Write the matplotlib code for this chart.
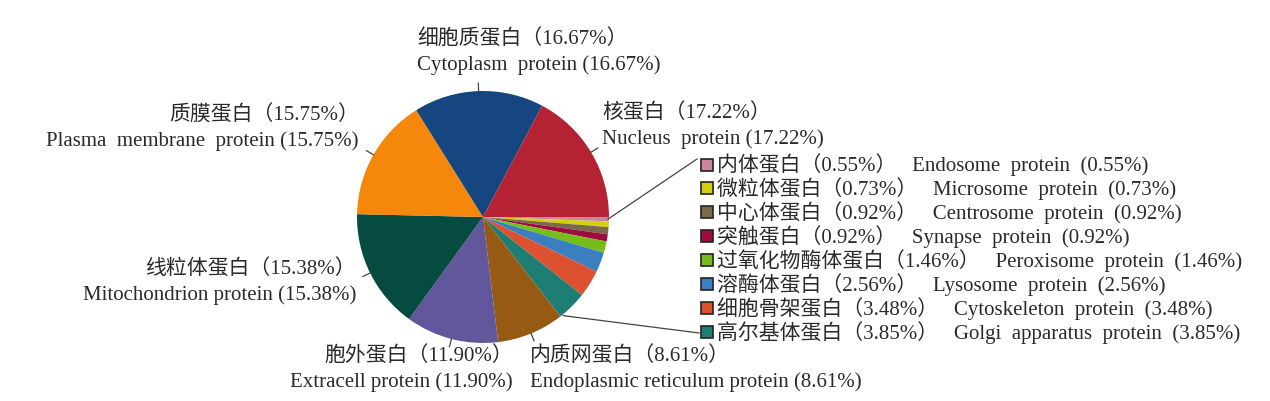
import matplotlib
matplotlib.use('Agg')
import matplotlib.pyplot as plt
import numpy as np

plt.rcParams['font.family'] = ['Liberation Serif', 'Noto Sans CJK SC', 'DejaVu Sans']

W, H = 1270, 402

# slices, clockwise from 3 o'clock
names_cn = ['内体蛋白', '微粒体蛋白', '中心体蛋白', '突触蛋白', '过氧化物酶体蛋白',
            '溶酶体蛋白', '细胞骨架蛋白', '高尔基体蛋白', '内质网蛋白', '胞外蛋白',
            '线粒体蛋白', '质膜蛋白', '细胞质蛋白', '核蛋白']
names_en = ['Endosome  protein', 'Microsome  protein', 'Centrosome  protein',
            'Synapse  protein', 'Peroxisome  protein', 'Lysosome  protein',
            'Cytoskeleton  protein', 'Golgi  apparatus  protein',
            'Endoplasmic reticulum protein', 'Extracell protein',
            'Mitochondrion protein', 'Plasma  membrane  protein',
            'Cytoplasm  protein', 'Nucleus  protein']
values = [0.55, 0.73, 0.92, 0.92, 1.46, 2.56, 3.48, 3.85, 8.61, 11.90,
          15.38, 15.75, 16.67, 17.22]
colors = ['#cc84a0', '#d4cf10', '#7b6a4c', '#a00a40', '#76bd1c', '#3a80c0',
          '#dc5230', '#1f7e74', '#975a12', '#62569c', '#054b40', '#f5870c',
          '#15467f', '#b42233']

n_legend = 8  # first eight slices go in the list on the right

fig = plt.figure(figsize=(W / 100, H / 100), dpi=100)
ax = fig.add_axes([0, 0, 1, 1])

cx, cy, r = 483, H - 218, 126
wedges, _ = ax.pie(values, colors=colors, startangle=0, counterclock=False,
                   center=(cx, cy), radius=r, frame=True,
                   wedgeprops=dict(linewidth=0))
ax.set_xlim(0, W)
ax.set_ylim(0, H)
ax.axis('off')


def edge(w, rr):
    a = np.deg2rad((w.theta1 + w.theta2) / 2)
    return cx + rr * np.cos(a), cy + rr * np.sin(a)


txt = dict(fontsize=15, color='#2a2a2a')
line = dict(color='#444444', lw=0.9)

# big slice labels: (x, y of Chinese line, alignment)
big = {8: (530, 357, 'left'), 9: (513, 357, 'right'), 10: (356, 270, 'right'),
       11: (359, 116, 'right'), 12: (417, 40, 'left'), 13: (602, 114, 'left')}
for i, (x, y, ha) in big.items():
    ax.text(x, H - y, f'{names_cn[i]}（{values[i]:.2f}%）', ha=ha, va='center', **txt)
    ax.text(x, H - y - 25, f'{names_en[i]} ({values[i]:.2f}%)', ha=ha, va='center', **txt)
    x0, y0 = edge(wedges[i], r)
    x1, y1 = edge(wedges[i], r + 8)
    ax.plot([x0, x1], [y0, y1], **line)

# small slices listed on the right
for i in range(n_legend):
    y = H - (165 + i * 23.9)
    ax.add_patch(plt.Rectangle((701, y - 6.5), 12, 12, facecolor=colors[i],
                               edgecolor='#222222', lw=1.2))
    ax.text(717, y, f'{names_cn[i]}（{values[i]:.2f}%）   {names_en[i]}  ({values[i]:.2f}%)',
            ha='left', va='center', **txt)

x0, y0 = edge(wedges[0], r - 1)
ax.plot([x0, 697], [y0, H - 160], **line)
x0, y0 = edge(wedges[7], r - 1)
ax.plot([x0 - 8, 699], [y0 - 10, H - 334], **line)

fig.savefig('out.png', dpi=100, facecolor='white')
